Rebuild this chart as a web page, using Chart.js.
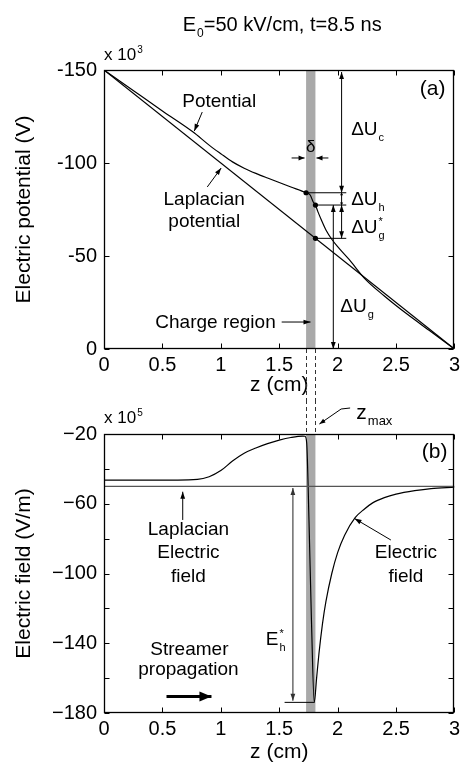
<!DOCTYPE html>
<html>
<head>
<meta charset="utf-8">
<script src="https://cdn.jsdelivr.net/npm/chart.js@4.4.0/dist/chart.umd.min.js"></script>
<style>
  html, body { margin: 0; padding: 0; background: #fff; }
  #wrap { position: relative; width: 464px; height: 767px; overflow: hidden; }
  canvas { position: absolute; left: 0; }
</style>
</head>
<body>
<div id="wrap">
  <canvas id="chartA" width="464" height="400" style="top:0"></canvas>
  <canvas id="chartB" width="464" height="367" style="top:400px"></canvas>
</div>
<script>
'use strict';

// ---- panel (a): electric potential along the axis (x 10^3 V)
const zPot = [0, 0.25, 0.5, 0.76, 0.9, 1.0, 1.1, 1.2, 1.3, 1.4, 1.5, 1.6, 1.73, 1.765, 1.79, 1.81, 1.83, 1.86, 1.9, 1.95, 2.0, 2.1, 2.23, 2.4, 2.6, 2.8, 3.0];
const potential = [-150, -139, -128, -116.8, -109.6, -105, -100.6, -97.2, -94.4, -91.9, -89.5, -87.1, -84, -82.8, -79.2, -77.4, -74, -69.5, -64, -59, -55, -48, -38, -28.5, -18.5, -9.3, 0];
const zLaplace = [0, 3];
const laplacePot = [-150, 0];
const zDots = [1.73, 1.81, 1.81];
const dotPot = [-84, -77.4, -59.5];

// ---- panel (b): electric field along the axis (x 10^5 V/m)
const zField = [0, 0.4, 0.8, 0.9, 1.0, 1.1, 1.2, 1.3, 1.4, 1.5, 1.6, 1.7, 1.72, 1.735, 1.755, 1.776, 1.80, 1.82, 1.84, 1.87, 1.9, 1.95, 2.0, 2.06, 2.15, 2.23, 2.3, 2.4, 2.5, 2.66, 2.8, 3.0];
const field = [-46.5, -46.5, -46, -44.5, -41, -35.5, -31, -28, -25.5, -23.5, -22, -21.2, -21.3, -25, -70, -127, -174, -160, -146, -129, -116, -100, -88, -78, -68, -63, -59.5, -56.5, -54.5, -52.5, -51.3, -50.5];
const laplaceField = [-50, -50];

const zTicks = [0, 0.5, 1, 1.5, 2, 2.5, 3];
const potTicks = [-150, -100, -50, 0];
const fieldTicks = [-180, -160, -140, -120, -100, -80, -60, -40, -20];
const fieldLabels = [-20, -60, -100, -140, -180];
const chargeRegion = [1.73, 1.81];

const FONT = "'Liberation Sans', Arial, Helvetica, sans-serif";
Chart.defaults.font.family = FONT;
Chart.defaults.color = '#000';

function pts(xs, ys) {
  return xs.map((x, i) => ({ x: x, y: ys[i] }));
}

function head(ctx, x1, y1, x2, y2, len, wid) {
  const a = Math.atan2(y2 - y1, x2 - x1);
  const c = Math.cos(a), s = Math.sin(a);
  ctx.beginPath();
  ctx.moveTo(x2, y2);
  ctx.lineTo(x2 - len * c + wid * s, y2 - len * s - wid * c);
  ctx.lineTo(x2 - len * c - wid * s, y2 - len * s + wid * c);
  ctx.closePath();
  ctx.fill();
}

// p: list of [x, y] pixel points; head at the end, optional at the start
function arrow(ctx, p, both, len, wid) {
  len = len || 7; wid = wid || 2.4;
  ctx.beginPath();
  ctx.moveTo(p[0][0], p[0][1]);
  for (let i = 1; i < p.length; i++) ctx.lineTo(p[i][0], p[i][1]);
  ctx.stroke();
  const n = p.length;
  head(ctx, p[n - 2][0], p[n - 2][1], p[n - 1][0], p[n - 1][1], len, wid);
  if (both) head(ctx, p[1][0], p[1][1], p[0][0], p[0][1], len, wid);
}

// text with sub/superscripts; parts are strings or {sub, sup}
function rich(ctx, x, y, parts, size, align) {
  const small = Math.round(size * 0.6);
  const widths = parts.map(p => {
    if (typeof p === 'string') {
      ctx.font = size + 'px ' + FONT;
      return ctx.measureText(p).width;
    }
    ctx.font = small + 'px ' + FONT;
    return Math.max(p.sub ? ctx.measureText(p.sub).width : 0, p.sup ? ctx.measureText(p.sup).width : 0) + 1;
  });
  const total = widths.reduce((a, b) => a + b, 0);
  let cx = align === 'center' ? x - total / 2 : align === 'right' ? x - total : x;
  ctx.textAlign = 'left';
  ctx.textBaseline = 'alphabetic';
  parts.forEach((p, i) => {
    if (typeof p === 'string') {
      ctx.font = size + 'px ' + FONT;
      ctx.fillText(p, cx, y);
    } else {
      ctx.font = small + 'px ' + FONT;
      if (p.sub) ctx.fillText(p.sub, cx + 1, y + size * 0.3);
      if (p.sup) ctx.fillText(p.sup, cx + 1, y - size * 0.42);
    }
    cx += widths[i];
  });
}

function text(ctx, x, y, s, size, align) {
  ctx.font = size + 'px ' + FONT;
  ctx.textAlign = align || 'left';
  ctx.textBaseline = 'alphabetic';
  ctx.fillText(s, x, y);
}

const bandPlugin = {
  id: 'band',
  beforeDatasetsDraw(chart) {
    const { ctx, chartArea: a, scales: { x } } = chart;
    const x0 = x.getPixelForValue(chargeRegion[0]);
    const x1 = x.getPixelForValue(chargeRegion[1]);
    ctx.save();
    ctx.fillStyle = '#a9a9a9';
    ctx.fillRect(x0, a.top, x1 - x0, a.bottom - a.top);
    ctx.restore();
  }
};

// matlab style box with inward ticks on all four sides
const framePlugin = {
  id: 'frame',
  afterDatasetsDraw(chart) {
    const { ctx, chartArea: a, scales: { x, y } } = chart;
    const L = Math.round(a.left) + 0.5, R = Math.round(a.right) - 0.5;
    const T = Math.round(a.top) + 0.5, B = Math.round(a.bottom) - 0.5;
    ctx.save();
    ctx.strokeStyle = '#000';
    ctx.lineWidth = 1;
    ctx.beginPath();
    x.ticks.forEach(t => {
      const px = Math.round(x.getPixelForValue(t.value)) + 0.5;
      ctx.moveTo(px, B); ctx.lineTo(px, B - 5);
      ctx.moveTo(px, T); ctx.lineTo(px, T + 5);
    });
    y.ticks.forEach(t => {
      const py = Math.round(y.getPixelForValue(t.value)) + 0.5;
      ctx.moveTo(L, py); ctx.lineTo(L + 5, py);
      ctx.moveTo(R, py); ctx.lineTo(R - 5, py);
    });
    ctx.stroke();
    ctx.lineWidth = 1.3;
    ctx.strokeRect(L, T, R - L, B - T);
    ctx.restore();
  }
};

const notesA = {
  id: 'notesA',
  afterDraw(chart) {
    const { ctx, chartArea: a, scales: { x, y } } = chart;
    const X = v => x.getPixelForValue(v), Y = v => y.getPixelForValue(v);
    ctx.save();
    ctx.fillStyle = '#000';
    ctx.strokeStyle = '#000';
    ctx.lineWidth = 1;

    rich(ctx, (a.left + a.right) / 2 + 3, 31, ['E', { sub: '0' }, '=50 kV/cm, t=8.5 ns'], 20, 'center');
    rich(ctx, a.left, 60, ['x 10', { sup: '3' }], 17, 'left');
    text(ctx, X(2.923), Y(-136.6), '(a)', 21, 'right');

    text(ctx, X(0.986), Y(-130.1), 'Potential', 19, 'center');
    arrow(ctx, [[X(0.841), Y(-127.4)], [X(0.773), Y(-117.2)]]);
    text(ctx, X(0.858), Y(-77.4), 'Laplacian', 19, 'center');
    text(ctx, X(0.858), Y(-65.8), 'potential', 19, 'center');
    arrow(ctx, [[X(0.884), Y(-87.1)], [X(1.003), Y(-97.3)]]);

    text(ctx, X(1.77), Y(-105.9), '\u03b4', 17, 'center');
    arrow(ctx, [[X(1.606), Y(-102.7)], [X(1.717), Y(-102.7)]], false, 6, 2.4);
    arrow(ctx, [[X(1.921), Y(-102.7)], [X(1.819), Y(-102.7)]], false, 6, 2.4);

    // level lines from the marked points
    ctx.beginPath();
    [[1.73, -84], [1.81, -77.4], [1.81, -59.5]].forEach(p => {
      ctx.moveTo(X(p[0]), Y(p[1])); ctx.lineTo(X(2.074), Y(p[1]));
    });
    ctx.stroke();

    arrow(ctx, [[X(2.034), Y(-148.9)], [X(2.034), Y(-84)]], true, 7, 2.4);
    arrow(ctx, [[X(2.034), Y(-84)], [X(2.034), Y(-77.4)]], true, 2.5, 1.6);
    arrow(ctx, [[X(2.034), Y(-77.4)], [X(2.034), Y(-59.5)]], true, 7, 2.4);
    arrow(ctx, [[X(1.963), Y(-77.4)], [X(1.963), Y(0)]], true, 7, 2.4);

    rich(ctx, X(2.116), Y(-115.1), ['\u0394U', { sub: 'c' }], 19, 'left');
    rich(ctx, X(2.116), Y(-77.4), ['\u0394U', { sub: 'h' }], 19, 'left');
    rich(ctx, X(2.116), Y(-62.4), ['\u0394U', { sub: 'g', sup: '*' }], 19, 'left');
    rich(ctx, X(2.023), Y(-19.9), ['\u0394U', { sub: 'g' }], 19, 'left');

    text(ctx, X(1.47), Y(-11.3), 'Charge region', 19, 'right');
    arrow(ctx, [[X(1.521), Y(-14.5)], [X(1.768), Y(-14.5)]]);

    // dashed guides down to panel (b)
    ctx.setLineDash([4, 3]);
    ctx.strokeStyle = '#333';
    ctx.beginPath();
    chargeRegion.forEach(z => {
      ctx.moveTo(Math.round(X(z)) + 0.5, a.bottom); ctx.lineTo(Math.round(X(z)) + 0.5, chart.height);
    });
    ctx.stroke();
    ctx.restore();
  }
};

const notesB = {
  id: 'notesB',
  afterDraw(chart) {
    const { ctx, chartArea: a, scales: { x, y } } = chart;
    const X = v => x.getPixelForValue(v), Y = v => y.getPixelForValue(v);
    ctx.save();
    ctx.fillStyle = '#000';
    ctx.strokeStyle = '#000';
    ctx.lineWidth = 1;

    rich(ctx, a.left, 23, ['x 10', { sup: '5' }], 17, 'left');
    text(ctx, X(2.94), Y(-33.8), '(b)', 21, 'right');

    rich(ctx, X(2.16), 19, ['z', { sub: 'max' }], 21, 'left');
    arrow(ctx, [[X(2.107), 8], [X(2.03), 9], [X(1.844), 24]], false, 6, 2.2);

    text(ctx, X(0.723), Y(-77.9), 'Laplacian', 19, 'center');
    text(ctx, X(0.723), Y(-91.1), 'Electric', 19, 'center');
    text(ctx, X(0.723), Y(-104.9), 'field', 19, 'center');
    arrow(ctx, [[X(0.674), Y(-69.3)], [X(0.674), Y(-53.1)]]);

    text(ctx, X(2.585), Y(-91.1), 'Electric', 19, 'center');
    text(ctx, X(2.585), Y(-104.9), 'field', 19, 'center');
    arrow(ctx, [[X(2.456), Y(-80.8)], [X(2.145), Y(-68.5)]]);

    ctx.beginPath();
    ctx.moveTo(X(1.546), Y(-173.9)); ctx.lineTo(X(1.80), Y(-173.9));
    ctx.stroke();
    ctx.strokeStyle = '#555';
    ctx.fillStyle = '#333';
    ctx.lineWidth = 1.3;
    arrow(ctx, [[X(1.617), Y(-51)], [X(1.617), Y(-173)]], true, 7, 2.4);
    ctx.fillStyle = '#000';
    rich(ctx, X(1.385), Y(-141), ['E', { sub: 'h', sup: '*' }], 19, 'left');

    text(ctx, X(0.731), Y(-146.7), 'Streamer', 19, 'center');
    text(ctx, X(0.723), Y(-158.2), 'propagation', 19, 'center');
    ctx.lineWidth = 3;
    ctx.strokeStyle = '#000';
    arrow(ctx, [[X(0.535), Y(-170.6)], [X(0.92), Y(-170.6)]], false, 12, 5);
    ctx.lineWidth = 1;

    ctx.setLineDash([4, 3]);
    ctx.strokeStyle = '#333';
    ctx.beginPath();
    chargeRegion.forEach(z => {
      ctx.moveTo(Math.round(X(z)) + 0.5, 0); ctx.lineTo(Math.round(X(z)) + 0.5, a.top);
    });
    ctx.stroke();
    ctx.restore();
  }
};

function xScale(height, titlePad) {
  return {
    type: 'linear', min: 0, max: 3,
    afterBuildTicks: s => { s.ticks = zTicks.map(v => ({ value: v })); },
    ticks: { font: { size: 20 }, padding: 4, maxRotation: 0, autoSkip: false, callback: v => String(v) },
    grid: { display: false, drawTicks: false },
    border: { display: false },
    title: { display: true, text: 'z (cm)', font: { size: 21 }, padding: titlePad },
    afterFit: s => { s.height = height; }
  };
}

new Chart(document.getElementById('chartA'), {
  type: 'line',
  data: {
    datasets: [
      { data: pts(zPot, potential), borderColor: '#000', borderWidth: 1.2, pointRadius: 0, cubicInterpolationMode: 'monotone' },
      { data: pts(zLaplace, laplacePot), borderColor: '#000', borderWidth: 1.2, pointRadius: 0 },
      { data: pts(zDots, dotPot), showLine: false, pointRadius: 2.6, pointBackgroundColor: '#000', pointBorderWidth: 0 }
    ]
  },
  options: {
    responsive: false, animation: false, devicePixelRatio: 1,
    layout: { padding: { top: 70, right: 7, left: 0, bottom: 0 } },
    plugins: { legend: { display: false }, tooltip: { enabled: false } },
    scales: {
      x: xScale(51, { top: 0, bottom: 2 }),
      y: {
        min: -150, max: 0, reverse: true,
        afterBuildTicks: s => { s.ticks = potTicks.map(v => ({ value: v })); },
        ticks: { font: { size: 20 }, padding: 7, callback: v => String(v) },
        grid: { display: false, drawTicks: false },
        border: { display: false },
        title: { display: true, text: 'Electric potential (V)', font: { size: 21 }, padding: 12 },
        afterFit: s => { s.width = 104; }
      }
    }
  },
  plugins: [bandPlugin, framePlugin, notesA]
});

new Chart(document.getElementById('chartB'), {
  type: 'line',
  data: {
    datasets: [
      { data: pts(zLaplace, laplaceField), borderColor: '#555', borderWidth: 1.3, pointRadius: 0 },
      { data: pts(zField, field), borderColor: '#000', borderWidth: 1.2, pointRadius: 0, cubicInterpolationMode: 'monotone' }
    ]
  },
  options: {
    responsive: false, animation: false, devicePixelRatio: 1,
    layout: { padding: { top: 34, right: 7, left: 0, bottom: 0 } },
    plugins: { legend: { display: false }, tooltip: { enabled: false } },
    scales: {
      x: xScale(54, { top: 0, bottom: 2 }),
      y: {
        min: -180, max: -20,
        afterBuildTicks: s => { s.ticks = fieldTicks.map(v => ({ value: v })); },
        ticks: { font: { size: 20 }, padding: 7, callback: v => fieldLabels.includes(v) ? '\u2212' + Math.abs(v) : '' },
        grid: { display: false, drawTicks: false },
        border: { display: false },
        title: { display: true, text: 'Electric field (V/m)', font: { size: 21 }, padding: 12 },
        afterFit: s => { s.width = 104; }
      }
    }
  },
  plugins: [bandPlugin, framePlugin, notesB]
});
</script>
</body>
</html>
